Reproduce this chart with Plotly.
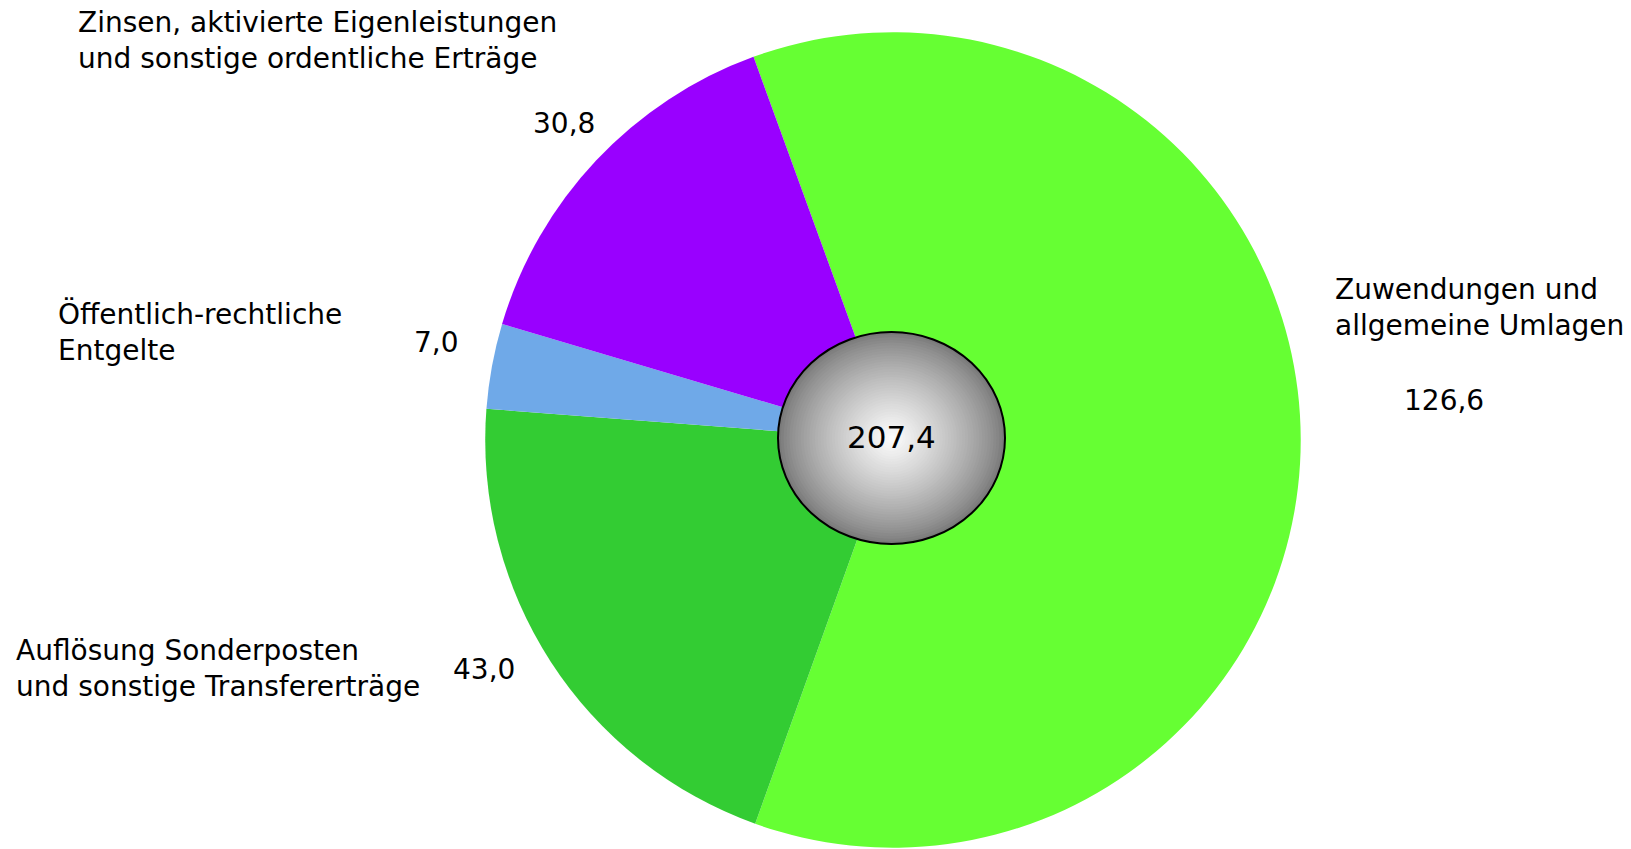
import plotly.graph_objects as go

# Ertraege (Mio. EUR)
labels = ["Zuwendungen und<br>allgemeine Umlagen",
          "Auflösung Sonderposten<br>und sonstige Transfererträge",
          "Öffentlich-rechtliche<br>Entgelte",
          "Zinsen, aktivierte Eigenleistungen<br>und sonstige ordentliche Erträge"]
values = [126.6, 43.0, 7.0, 30.8]
colors = ["#66ff33", "#33cc33", "#6fa9e8", "#9900ff"]
total = sum(values)

def fmt(v):
    return f"{v:.1f}".replace(".", ",")

W, H = 1631, 849

fig = go.Figure(go.Pie(
    values=values,
    labels=labels,
    marker=dict(colors=colors, line=dict(width=0)),
    sort=False,
    direction="clockwise",
    rotation=-20,
    textinfo="none",
    hoverinfo="label+value",
    domain=dict(x=[0.2975, 0.7975], y=[0.0, 0.9635]),
    showlegend=False,
))

# label / value positions in pixels (left x, center y)
label_pos = [(1333, 307), (14, 668), (56, 332), (76, 40)]
value_pos = [(1444, 400), (484, 669), (436, 342), (564, 123)]

ann = []
for lab, v, (lx, ly), (vx, vy) in zip(labels, values, label_pos, value_pos):
    ann.append(dict(x=lx / W, y=1 - ly / H, xref="paper", yref="paper",
                    text=lab, showarrow=False, xanchor="left", yanchor="middle",
                    align="left", font=dict(size=28, color="black")))
    ann.append(dict(x=vx / W, y=1 - vy / H, xref="paper", yref="paper",
                    text=fmt(v), showarrow=False, xanchor="center", yanchor="middle",
                    font=dict(size=28, color="black")))

# center total
ann.append(dict(x=892 / W, y=1 - 437 / H, xref="paper", yref="paper",
                text=fmt(total), showarrow=False, xanchor="center", yanchor="middle",
                font=dict(size=31, color="black", family="DejaVu Sans")))

# grey ball in the middle, radial gradient from stacked ellipses
cx, cy, rx, ry = 891.5, 438, 113.5, 106
shapes = []
n = 40
for i in range(n):
    t = 1 - i / n
    g = int(122 + (255 - 122) * (1 - t) ** 0.8)
    shapes.append(dict(type="circle", xref="paper", yref="paper",
                       x0=(cx - rx * t) / W, x1=(cx + rx * t) / W,
                       y0=1 - (cy + ry * t) / H, y1=1 - (cy - ry * t) / H,
                       fillcolor=f"rgb({g},{g},{g})",
                       line=dict(width=0),
                       layer="above"))
# outline on top
shapes.append(dict(type="circle", xref="paper", yref="paper",
                   x0=(cx - rx) / W, x1=(cx + rx) / W,
                   y0=1 - (cy + ry) / H, y1=1 - (cy - ry) / H,
                   line=dict(width=2, color="black"), layer="above"))

fig.update_layout(
    width=W, height=H,
    margin=dict(l=0, r=0, t=0, b=0),
    paper_bgcolor="white",
    plot_bgcolor="white",
    font=dict(family="DejaVu Sans", size=28, color="black"),
    annotations=ann,
    shapes=shapes,
)

fig.write_html("out.html", config={"displayModeBar": False},
               post_script="document.body.style.margin='0';")
